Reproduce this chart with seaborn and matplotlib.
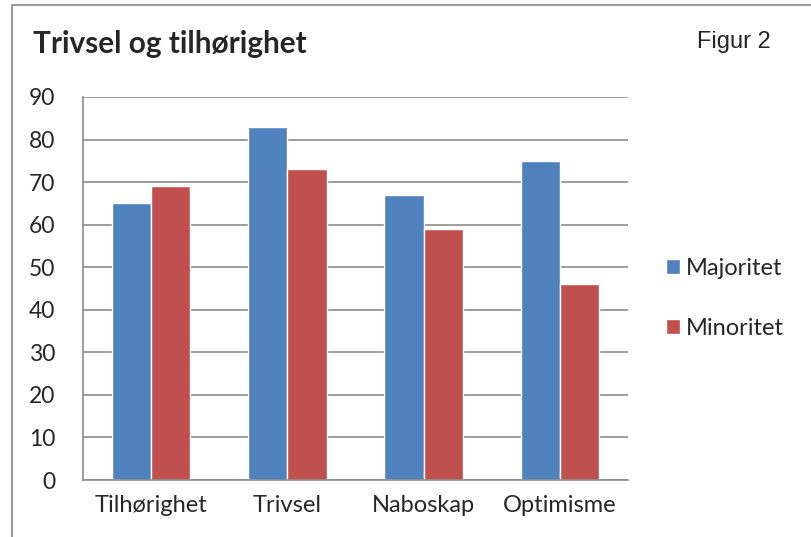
import pandas as pd
import seaborn as sns
import matplotlib.pyplot as plt
from matplotlib.lines import Line2D

# Data
categories = ['Tilhørighet', 'Trivsel', 'Naboskap', 'Optimisme']
majoritet = [65, 83, 67, 75]
minoritet = [69, 73, 59, 46]
series = ['Majoritet', 'Minoritet']
colors = ['#4F81BD', '#C0504D']

df = pd.DataFrame({
    'kategori': categories * 2,
    'gruppe': ['Majoritet'] * 4 + ['Minoritet'] * 4,
    'verdi': majoritet + minoritet,
})

sns.set_style('white')
plt.rcParams['font.family'] = ['Lato', 'DejaVu Sans']

fig = plt.figure(figsize=(8.11, 5.37), dpi=100)
ax = fig.add_axes([0.1023, 0.1061, 0.672, 0.7133])

sns.barplot(data=df, x='kategori', y='verdi', hue='gruppe', palette=colors,
            width=0.575, saturation=1, ax=ax, legend=True)

ax.set_xlim(-0.5, 3.5)
ax.set_ylim(0, 90)
ax.set_yticks(range(0, 100, 10))
ax.yaxis.grid(True, color='#8C8C8C', linewidth=1.2)
ax.set_axisbelow(True)
ax.set_xlabel('')
ax.set_ylabel('')
for s in ['top', 'right']:
    ax.spines[s].set_visible(False)
for s in ['left', 'bottom']:
    ax.spines[s].set_color('#8C8C8C')
    ax.spines[s].set_linewidth(1.2)
ax.tick_params(axis='y', labelsize=16.5, length=4, color='#8C8C8C', pad=16)
ax.tick_params(axis='x', labelsize=17, length=0, pad=11)

leg = ax.legend(loc='center left', bbox_to_anchor=(1.03, 0.475), frameon=False,
                fontsize=17, handlelength=0.6, handleheight=0.6,
                handletextpad=0.25, labelspacing=1.65)

fig.text(0.041, 0.9013, 'Trivsel og tilhørighet', fontsize=21.4, fontweight='bold',
         va='baseline', ha='left')
fig.text(0.9507, 0.9106, 'Figur 2', fontsize=17, family='Liberation Sans',
         va='baseline', ha='right')

# chart frame
fig.add_artist(Line2D([0.015, 1.0], [0.991, 0.991], color='#9C9C9C', linewidth=1.5,
                      transform=fig.transFigure))
fig.add_artist(Line2D([0.015, 0.015], [0.0, 0.991], color='#9C9C9C', linewidth=1.5,
                      transform=fig.transFigure))

fig.savefig('out.png', dpi=100)
